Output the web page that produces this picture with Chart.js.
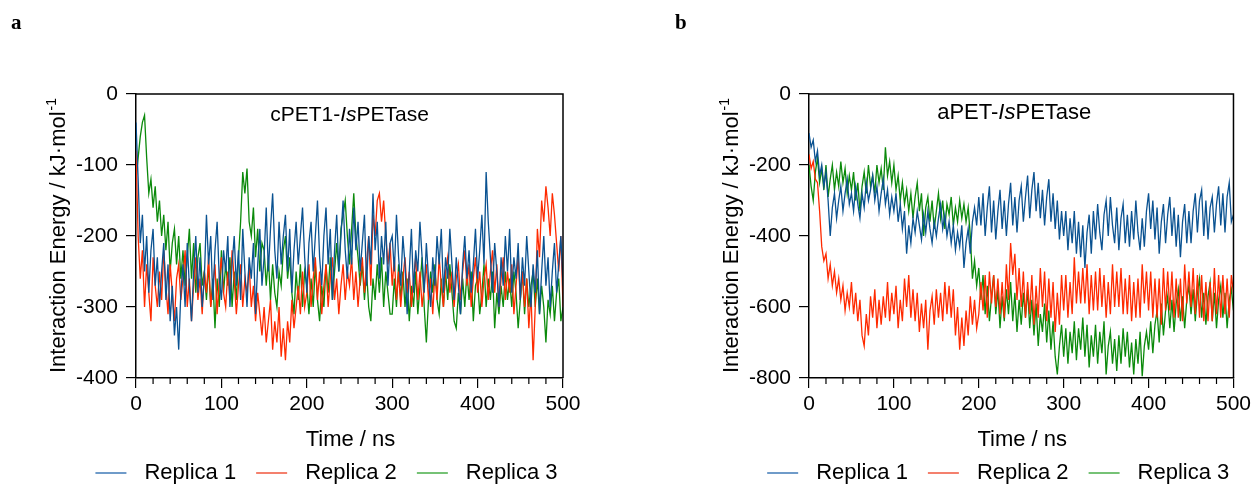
<!DOCTYPE html>
<html>
<head>
<meta charset="utf-8">
<script src="https://cdn.jsdelivr.net/npm/chart.js@4.4.1/dist/chart.umd.min.js"></script>
<style>
  html, body { margin: 0; padding: 0; background: #fff; }
  body { width: 1255px; height: 485px; position: relative; overflow: hidden; }
  canvas { position: absolute; top: 0; }
  #chartA { left: 0; }
  #chartB { left: 627px; }
</style>
</head>
<body>
<canvas id="chartA" width="627" height="485"></canvas>
<canvas id="chartB" width="628" height="485"></canvas>
<script>
// sampled every 2.5 ns, 0..500 ns (20 values per row = 50 ns)
const stepNs = 2.5;
const seriesNames = ['Replica 1', 'Replica 2', 'Replica 3'];
const xTicks = [0, 100, 200, 300, 400, 500];
const yTicksA = [0, -100, -200, -300, -400];
const yTicksB = [0, -200, -400, -600, -800];

// panel a: cPET1-IsPETase
const cpetRep1 = [
  -40, -120, -210, -170, -250, -200, -280, -220, -190, -270, -230, -300, -250, -210, -290, -240, -320, -270, -340, -300,
  -360, -280, -240, -300, -210, -270, -320, -250, -200, -280, -230, -300, -260, -170, -240, -200, -290, -220, -180, -260,
  -290, -220, -250, -200, -300, -240, -200, -270, -220, -290, -190, -250, -300, -230, -260, -210, -310, -240, -190, -270,
  -230, -160, -250, -190, -140, -220, -260, -180, -240, -200, -170, -250, -190, -280, -220, -180, -240, -200, -160, -230,
  -280, -210, -180, -250, -200, -150, -230, -270, -200, -160, -240, -190, -290, -220, -170, -250, -200, -150, -220, -260,
  -190, -240, -160, -220, -180, -250, -210, -170, -270, -200, -240, -140, -220, -180, -260, -200, -240, -180, -270, -210,
  -200, -250, -170, -230, -270, -200, -240, -310, -250, -190, -280, -220, -250, -180, -230, -280, -210, -260, -300, -230,
  -270, -200, -240, -190, -280, -230, -260, -190, -240, -290, -230, -270, -310, -240, -200, -260, -220, -280, -240, -190,
  -260, -220, -170, -240, -110, -180, -230, -280, -210, -250, -300, -230, -270, -200, -250, -190, -280, -230, -260, -210,
  -290, -230, -270, -200, -250, -300, -240, -280, -220, -310, -250, -200, -270, -230, -300, -250, -210, -280, -240, -200,
  -270
];
const cpetRep2 = [
  -80, -200, -260, -220, -300, -240, -280, -320, -230, -270, -300, -250, -290, -220, -270, -310, -240, -280, -320, -260,
  -240, -290, -260, -220, -300, -260, -320, -270, -230, -290, -260, -310, -250, -280, -230, -300, -270, -240, -310, -260,
  -230, -280, -300, -250, -290, -220, -260, -310, -270, -240, -300, -260, -280, -240, -300, -270, -320, -280, -310, -340,
  -300, -350, -320, -290, -360, -320, -350, -300, -370, -330, -375, -320, -350, -290, -330, -300, -270, -310, -250, -300,
  -280, -240, -300, -260, -230, -290, -250, -310, -270, -240, -300, -260, -230, -290, -260, -310, -270, -240, -290, -250,
  -270, -230, -290, -250, -300, -260, -230, -280, -240, -200, -270, -170, -200, -150, -140, -180, -150, -200, -240, -210,
  -270, -230, -290, -250, -300, -260, -230, -280, -250, -300, -260, -230, -290, -250, -300, -270, -240, -290, -260, -310,
  -250, -290, -230, -270, -300, -250, -230, -280, -250, -300, -260, -240, -290, -250, -220, -270, -240, -300, -260, -230,
  -280, -250, -300, -260, -240, -290, -250, -220, -280, -240, -300, -260, -230, -290, -250, -280, -240, -310, -270, -230,
  -290, -250, -300, -260, -330, -280, -375, -300, -190, -230, -150, -180, -130, -160, -200, -140, -170, -210, -250, -200,
  -300
];
const cpetRep3 = [
  -120, -90, -60, -40, -30, -90, -140, -120, -160, -130, -180, -150, -200, -170, -220, -180, -250, -210, -190, -240,
  -200, -260, -220, -270, -230, -190, -260, -210, -280, -230, -210, -270, -250, -290, -240, -300, -260, -330, -260, -300,
  -220, -280, -240, -270, -230, -300, -250, -290, -230, -180, -110, -140, -105, -180, -200, -160, -230, -190, -250, -210,
  -220, -270, -230, -290, -240, -280, -300, -250, -270, -220, -200, -260, -230, -280, -310, -250, -290, -240, -300, -250,
  -270, -310, -260, -300, -240, -290, -320, -270, -300, -240, -280, -230, -290, -250, -210, -250, -190, -170, -150, -200,
  -240, -190, -140, -200, -230, -270, -240, -290, -250, -300, -320, -260, -290, -240, -280, -230, -300, -250, -280, -310,
  -310, -260, -300, -240, -290, -250, -300, -260, -320, -270, -300, -250, -310, -270, -230, -300, -350, -290, -250, -280,
  -240, -290, -310, -260, -300, -250, -290, -240, -280, -320, -330, -280, -310, -260, -300, -250, -290, -250, -320, -270,
  -260, -310, -280, -240, -300, -260, -290, -250, -330, -280, -310, -270, -300, -250, -290, -260, -300, -250, -280, -330,
  -290, -250, -310, -260, -300, -270, -250, -300, -260, -310, -270, -300, -350, -290, -310, -270, -320, -280, -260, -320,
  -300
];

// panel b: aPET-IsPETase
const apetRep1 = [
  -110, -150, -130, -190, -160, -230, -200, -260, -220, -300, -400, -320, -280, -350, -300, -260, -330, -280, -240, -310,
  -280, -330, -260, -310, -350, -280, -320, -250, -300, -270, -230, -300, -260, -330, -280, -240, -310, -270, -340, -290,
  -330, -280, -360, -310, -380, -330, -450, -370, -420, -350, -390, -330, -370, -410, -340, -390, -330, -380, -420, -360,
  -400, -350, -310, -380, -340, -400, -360, -420, -370, -440, -390, -430, -370, -490, -420, -380, -450, -360, -320, -370,
  -290, -370, -280, -400, -320, -260, -390, -300, -410, -330, -270, -380, -300, -400, -310, -250, -370, -290, -390, -300,
  -260, -360, -290, -230, -350, -270, -220, -330, -250, -350, -270, -370, -290, -240, -360, -280, -380, -300, -410, -330,
  -400, -330, -440, -350, -420, -330, -450, -360, -460, -370, -490, -390, -340, -450, -330, -410, -310, -390, -440, -340,
  -300, -400, -290, -370, -420, -320, -440, -350, -310, -420, -340, -430, -330, -410, -300, -390, -440, -350, -430, -330,
  -280, -380, -300, -410, -320, -450, -360, -310, -420, -340, -290, -400, -320, -430, -340, -460, -360, -310, -420, -330,
  -420, -330, -280, -390, -300, -270, -400, -300, -410, -320, -290, -390, -310, -260, -370, -280, -390, -290, -250, -360,
  -340
];
const apetRep2 = [
  -170, -210, -190, -240, -250, -330, -430, -470, -450, -520, -480, -540, -500, -560, -520, -580, -540, -610, -560, -600,
  -530, -620, -560, -640, -580, -680, -710, -620, -680, -570, -630, -550, -660, -580, -650, -570, -630, -530, -640, -560,
  -620, -540, -660, -580, -640, -520, -600, -510, -630, -550, -640, -560, -670, -590, -660, -580, -720, -610, -570, -650,
  -550, -630, -560, -640, -530, -620, -540, -630, -550, -680, -600, -720, -630, -710, -610, -680, -570, -650, -580, -660,
  -620, -530, -610, -510, -630, -500, -590, -510, -600, -520, -620, -530, -630, -480, -580, -420, -510, -450, -580, -490,
  -600, -500, -630, -530, -620, -510, -650, -540, -630, -490, -600, -500, -640, -520, -630, -530, -670, -560, -650, -510,
  -610, -510, -630, -530, -620, -460, -590, -500, -590, -490, -590, -480, -620, -510, -610, -500, -610, -490, -600, -510,
  -630, -530, -620, -480, -600, -500, -600, -490, -620, -520, -620, -510, -640, -530, -630, -520, -630, -480, -590, -500,
  -610, -500, -630, -520, -630, -520, -650, -490, -610, -500, -610, -500, -630, -520, -630, -520, -640, -480, -590, -500,
  -600, -490, -620, -510, -630, -510, -640, -530, -640, -530, -640, -490, -620, -510, -630, -510, -620, -520, -630, -510,
  -560
];
const apetRep3 = [
  -200, -260, -300, -220, -180, -250, -210, -270, -200, -290, -240, -200, -270, -220, -260, -190, -250, -210, -280, -230,
  -270, -220, -300, -250, -330, -260, -220, -280, -200, -260, -230, -280, -200, -250, -210, -270, -150, -230, -190, -250,
  -200, -270, -230, -300, -250, -310, -270, -330, -280, -350, -290, -250, -330, -280, -400, -320, -290, -360, -300, -380,
  -330, -280, -350, -300, -380, -310, -340, -290, -370, -320, -360, -300, -350, -310, -360, -320, -400, -520, -470, -540,
  -490, -580, -510, -620, -540, -640, -570, -510, -620, -550, -660, -570, -640, -550, -620, -530, -640, -560, -670, -580,
  -650, -560, -630, -550, -660, -580, -680, -590, -710, -620, -670, -590, -700, -610, -720, -640, -740, -790, -710, -650,
  -740, -660, -760, -670, -730, -640, -750, -660, -720, -630, -740, -650, -770, -680, -740, -650, -760, -670, -730, -640,
  -790, -710, -670, -760, -690, -780, -680, -760, -660, -740, -670, -770, -700, -790, -690, -760, -670, -795, -710, -670,
  -720, -640, -730, -650, -610, -700, -590, -680, -610, -570, -660, -580, -670, -590, -550, -640, -570, -660, -580, -540,
  -620, -550, -640, -560, -520, -630, -560, -650, -570, -530, -640, -560, -660, -580, -540, -630, -560, -660, -580, -550,
  -610
];

const FONT = "'Liberation Sans', Arial, Helvetica, sans-serif";
const lineColors = ['#0a5291', '#ff2a00', '#0b8a0b'];
const legendColors = ['#6f9bc9', '#f4806d', '#76c276'];

function toPoints(values) {
  return values.map((v, i) => ({ x: i * stepNs, y: v }));
}

// frame, minor ticks, titles, legend and panel letter
const decorations = {
  id: 'decorations',
  afterDraw(chart, args, opts) {
    const { ctx, chartArea: a, scales: { x } } = chart;
    const cx = (a.left + a.right) / 2;
    ctx.save();
    ctx.strokeStyle = '#000';
    ctx.lineWidth = 1.5;
    ctx.beginPath();
    ctx.moveTo(a.left, a.top);
    ctx.lineTo(a.right, a.top);
    ctx.lineTo(a.right, a.bottom);
    ctx.stroke();

    ctx.lineWidth = 1.2;
    for (let v = 20; v < 500; v += 20) {
      if (v % 100 === 0) continue;
      const px = x.getPixelForValue(v);
      ctx.beginPath();
      ctx.moveTo(px, a.bottom);
      ctx.lineTo(px, a.bottom + 6);
      ctx.stroke();
    }

    ctx.fillStyle = '#000';
    ctx.textBaseline = 'alphabetic';

    // inset title with italic "Is"
    const parts = [[opts.pre, ''], ['Is', 'italic '], ['PETase', '']];
    let total = 0;
    parts.forEach(p => { ctx.font = p[1] + opts.insetSize + 'px ' + FONT; total += ctx.measureText(p[0]).width; });
    let tx = cx + opts.insetShift - total / 2;
    ctx.textAlign = 'left';
    parts.forEach(p => {
      ctx.font = p[1] + opts.insetSize + 'px ' + FONT;
      ctx.fillText(p[0], tx, opts.insetBase);
      tx += ctx.measureText(p[0]).width;
    });

    // y title with superscript
    ctx.save();
    ctx.translate(a.left - 71, (a.top + a.bottom) / 2);
    ctx.rotate(-Math.PI / 2);
    ctx.font = '22px ' + FONT;
    const main = 'Interaction Energy / kJ\u00b7mol';
    const mw = ctx.measureText(main).width;
    ctx.font = '14px ' + FONT;
    const sw = ctx.measureText('-1').width;
    const start = -(mw + sw) / 2;
    ctx.font = '22px ' + FONT;
    ctx.fillText(main, start, 0);
    ctx.font = '14px ' + FONT;
    ctx.fillText('-1', start + mw + 1, -9);
    ctx.restore();

    // x title
    ctx.font = '22px ' + FONT;
    ctx.textAlign = 'center';
    ctx.fillText('Time / ns', cx + 1, 446);

    // legend
    ctx.textAlign = 'left';
    const widths = seriesNames.map(n => ctx.measureText(n).width);
    const lineLen = 31, gapText = 18, gapItem = 20;
    const legendW = widths.reduce((s, w) => s + lineLen + gapText + w, 0) + gapItem * 2;
    let lx = cx - 23 - legendW / 2;
    seriesNames.forEach((n, i) => {
      ctx.strokeStyle = legendColors[i];
      ctx.lineWidth = 2;
      ctx.beginPath();
      ctx.moveTo(lx, 473);
      ctx.lineTo(lx + lineLen, 473);
      ctx.stroke();
      ctx.fillText(n, lx + lineLen + gapText, 479);
      lx += lineLen + gapText + widths[i] + gapItem;
    });

    // panel letter
    ctx.font = "bold 21px 'Liberation Serif', 'DejaVu Serif', serif";
    ctx.fillText(opts.letter, opts.letterX, 29);
    ctx.restore();
  }
};

function makeChart(id, seriesList, yTicks, pad, yWidth, deco) {
  const yMin = Math.min(...yTicks), yMax = Math.max(...yTicks);
  const yStep = Math.abs(yTicks[1] - yTicks[0]);
  return new Chart(document.getElementById(id), {
    type: 'line',
    data: {
      datasets: seriesList.map((vals, i) => ({
        label: seriesNames[i],
        data: toPoints(vals),
        borderColor: lineColors[i],
        borderWidth: 1.3,
        pointRadius: 0,
        tension: 0,
        fill: false
      }))
    },
    options: {
      responsive: false,
      animation: false,
      events: [],
      layout: { padding: pad },
      plugins: {
        legend: { display: false },
        tooltip: { enabled: false },
        decorations: deco
      },
      scales: {
        x: {
          type: 'linear',
          min: xTicks[0],
          max: xTicks[xTicks.length - 1],
          afterFit(scale) { scale.height = 40; },
          ticks: { stepSize: xTicks[1] - xTicks[0], color: '#000', padding: 4, maxRotation: 0, font: { family: FONT, size: 21 } },
          grid: { drawOnChartArea: false, color: '#000', lineWidth: 1.2, tickLength: 10 },
          border: { color: '#000', width: 1.5 }
        },
        y: {
          min: yMin,
          max: yMax,
          afterFit(scale) { scale.width = yWidth; },
          ticks: { stepSize: yStep, color: '#000', padding: 8, font: { family: FONT, size: 21 } },
          grid: { drawOnChartArea: false, color: '#000', lineWidth: 1.2, tickLength: 10 },
          border: { color: '#000', width: 1.5 }
        }
      }
    },
    plugins: [decorations]
  });
}

makeChart('chartA', [cpetRep1, cpetRep2, cpetRep3], yTicksA,
  { left: 0, top: 94, right: 64, bottom: 67 }, 136,
  { pre: 'cPET1-', insetSize: 21, insetShift: 0, insetBase: 121, letter: 'a', letterX: 11 });

makeChart('chartB', [apetRep1, apetRep2, apetRep3], yTicksB,
  { left: 0, top: 94, right: 19, bottom: 67 }, 182,
  { pre: 'aPET-', insetSize: 22, insetShift: -7, insetBase: 119, letter: 'b', letterX: 48 });
</script>
</body>
</html>
